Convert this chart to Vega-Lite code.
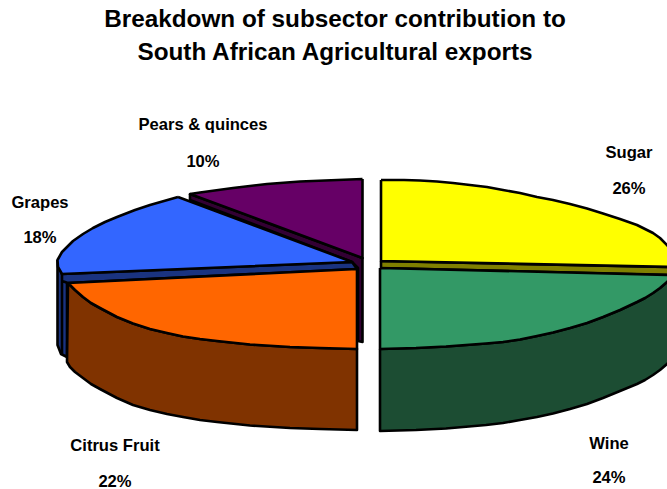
{
  "$schema": "https://vega.github.io/schema/vega-lite/v6.json",
  "width": 667,
  "height": 489,
  "padding": 0,
  "autosize": "none",
  "background": "white",
  "view": {"stroke": null},
  "title": {
    "text": ["Breakdown of subsector contribution to", "South African Agricultural exports"],
    "font": "Liberation Sans",
    "fontSize": 24.3,
    "fontWeight": "bold",
    "lineHeight": 33,
    "color": "black",
    "anchor": "middle",
    "baseline": "top",
    "offset": 0,
    "dx": 1.5,
    "dy": 65
  },
  "datasets": {
    "slices": [
      {"part":"Pears side","x":190,"y":194},{"part":"Pears side","x":362.5,"y":258},{"part":"Pears side","x":362.5,"y":342},{"part":"Pears side","x":358,"y":341},{"part":"Pears side","x":358,"y":268},{"part":"Pears side","x":352,"y":262},{"part":"Pears side","x":190,"y":200},{"part":"Pears side","x":190,"y":194},
      {"part":"Pears top","x":362.5,"y":179},{"part":"Pears top","x":300,"y":181.5},{"part":"Pears top","x":267,"y":184},{"part":"Pears top","x":233,"y":188},{"part":"Pears top","x":200,"y":192.5},{"part":"Pears top","x":190,"y":194},{"part":"Pears top","x":362.5,"y":258},{"part":"Pears top","x":362.5,"y":179},
      {"part":"Grapes wall","x":57.5,"y":260},{"part":"Grapes wall","x":62,"y":274},{"part":"Grapes wall","x":67,"y":280},{"part":"Grapes wall","x":67,"y":357},{"part":"Grapes wall","x":61,"y":354},{"part":"Grapes wall","x":57.5,"y":345},{"part":"Grapes wall","x":57.5,"y":260},
      {"part":"Grapes cut","x":62,"y":274},{"part":"Grapes cut","x":352,"y":262},{"part":"Grapes cut","x":357,"y":269},{"part":"Grapes cut","x":68,"y":283},{"part":"Grapes cut","x":62,"y":281},{"part":"Grapes cut","x":62,"y":274},{"part":"Grapes cut","x":62,"y":354},
      {"part":"Grapes top","x":178,"y":197},{"part":"Grapes top","x":150,"y":205},{"part":"Grapes top","x":135,"y":210},{"part":"Grapes top","x":117,"y":217},{"part":"Grapes top","x":105,"y":222},{"part":"Grapes top","x":93,"y":228},{"part":"Grapes top","x":83,"y":234},{"part":"Grapes top","x":73,"y":241},{"part":"Grapes top","x":67,"y":247},{"part":"Grapes top","x":62,"y":252},{"part":"Grapes top","x":57.5,"y":260},{"part":"Grapes top","x":58,"y":267},{"part":"Grapes top","x":62,"y":274},{"part":"Grapes top","x":352,"y":262},{"part":"Grapes top","x":347,"y":260},{"part":"Grapes top","x":178,"y":197},
      {"part":"Citrus side","x":68,"y":283},{"part":"Citrus side","x":75,"y":290},{"part":"Citrus side","x":83,"y":297},{"part":"Citrus side","x":91,"y":303},{"part":"Citrus side","x":100,"y":308},{"part":"Citrus side","x":117,"y":317},{"part":"Citrus side","x":133,"y":323.5},{"part":"Citrus side","x":150,"y":329},{"part":"Citrus side","x":167,"y":333},{"part":"Citrus side","x":183,"y":336.5},{"part":"Citrus side","x":200,"y":339},{"part":"Citrus side","x":217,"y":341},{"part":"Citrus side","x":250,"y":344.5},{"part":"Citrus side","x":290,"y":347},{"part":"Citrus side","x":320,"y":348},{"part":"Citrus side","x":357,"y":349},{"part":"Citrus side","x":357,"y":430},{"part":"Citrus side","x":320,"y":429},{"part":"Citrus side","x":290,"y":428},{"part":"Citrus side","x":250,"y":425.5},{"part":"Citrus side","x":217,"y":422},{"part":"Citrus side","x":200,"y":420},{"part":"Citrus side","x":183,"y":417},{"part":"Citrus side","x":167,"y":414},{"part":"Citrus side","x":150,"y":410},{"part":"Citrus side","x":133,"y":405},{"part":"Citrus side","x":117,"y":398},{"part":"Citrus side","x":100,"y":389},{"part":"Citrus side","x":91,"y":384},{"part":"Citrus side","x":83,"y":378},{"part":"Citrus side","x":75,"y":372},{"part":"Citrus side","x":70,"y":367},{"part":"Citrus side","x":67,"y":362},{"part":"Citrus side","x":68,"y":283},
      {"part":"Citrus top","x":68,"y":283},{"part":"Citrus top","x":75,"y":290},{"part":"Citrus top","x":83,"y":297},{"part":"Citrus top","x":91,"y":303},{"part":"Citrus top","x":100,"y":308},{"part":"Citrus top","x":117,"y":317},{"part":"Citrus top","x":133,"y":323.5},{"part":"Citrus top","x":150,"y":329},{"part":"Citrus top","x":167,"y":333},{"part":"Citrus top","x":183,"y":336.5},{"part":"Citrus top","x":200,"y":339},{"part":"Citrus top","x":217,"y":341},{"part":"Citrus top","x":250,"y":344.5},{"part":"Citrus top","x":290,"y":347},{"part":"Citrus top","x":320,"y":348},{"part":"Citrus top","x":357,"y":349},{"part":"Citrus top","x":357,"y":269},{"part":"Citrus top","x":68,"y":283},
      {"part":"Sugar cut","x":381,"y":261},{"part":"Sugar cut","x":670,"y":267},{"part":"Sugar cut","x":670,"y":275},{"part":"Sugar cut","x":381,"y":268},{"part":"Sugar cut","x":381,"y":261},
      {"part":"Sugar top","x":381,"y":180},{"part":"Sugar top","x":404,"y":180},{"part":"Sugar top","x":420,"y":180.5},{"part":"Sugar top","x":437,"y":181.5},{"part":"Sugar top","x":453,"y":183},{"part":"Sugar top","x":470,"y":185},{"part":"Sugar top","x":487,"y":187},{"part":"Sugar top","x":503,"y":190},{"part":"Sugar top","x":520,"y":193},{"part":"Sugar top","x":537,"y":197},{"part":"Sugar top","x":553,"y":200},{"part":"Sugar top","x":570,"y":204},{"part":"Sugar top","x":587,"y":208.5},{"part":"Sugar top","x":603,"y":213.5},{"part":"Sugar top","x":620,"y":219},{"part":"Sugar top","x":637,"y":225},{"part":"Sugar top","x":645,"y":229},{"part":"Sugar top","x":653,"y":233},{"part":"Sugar top","x":660,"y":238},{"part":"Sugar top","x":667,"y":245},{"part":"Sugar top","x":672,"y":252},{"part":"Sugar top","x":672,"y":267},{"part":"Sugar top","x":381,"y":261},{"part":"Sugar top","x":381,"y":180},
      {"part":"Wine side","x":380,"y":349},{"part":"Wine side","x":416,"y":348},{"part":"Wine side","x":446,"y":346.5},{"part":"Wine side","x":486,"y":343.5},{"part":"Wine side","x":503,"y":342},{"part":"Wine side","x":520,"y":339.5},{"part":"Wine side","x":537,"y":336},{"part":"Wine side","x":553,"y":332.5},{"part":"Wine side","x":570,"y":328},{"part":"Wine side","x":587,"y":323},{"part":"Wine side","x":603,"y":317},{"part":"Wine side","x":620,"y":310},{"part":"Wine side","x":637,"y":302},{"part":"Wine side","x":645,"y":298},{"part":"Wine side","x":653,"y":293},{"part":"Wine side","x":660,"y":288},{"part":"Wine side","x":667,"y":282},{"part":"Wine side","x":672,"y":276},{"part":"Wine side","x":672,"y":358},{"part":"Wine side","x":667,"y":364},{"part":"Wine side","x":660,"y":370},{"part":"Wine side","x":653,"y":375},{"part":"Wine side","x":645,"y":380},{"part":"Wine side","x":637,"y":384},{"part":"Wine side","x":620,"y":391},{"part":"Wine side","x":603,"y":398},{"part":"Wine side","x":587,"y":404},{"part":"Wine side","x":570,"y":409},{"part":"Wine side","x":553,"y":413.5},{"part":"Wine side","x":537,"y":417},{"part":"Wine side","x":520,"y":420},{"part":"Wine side","x":503,"y":423},{"part":"Wine side","x":486,"y":425},{"part":"Wine side","x":446,"y":428.5},{"part":"Wine side","x":416,"y":430},{"part":"Wine side","x":380,"y":431},{"part":"Wine side","x":380,"y":349},
      {"part":"Wine top","x":380,"y":268},{"part":"Wine top","x":672,"y":275},{"part":"Wine top","x":672,"y":276},{"part":"Wine top","x":667,"y":282},{"part":"Wine top","x":660,"y":288},{"part":"Wine top","x":653,"y":293},{"part":"Wine top","x":645,"y":298},{"part":"Wine top","x":637,"y":302},{"part":"Wine top","x":620,"y":310},{"part":"Wine top","x":603,"y":317},{"part":"Wine top","x":587,"y":323},{"part":"Wine top","x":570,"y":328},{"part":"Wine top","x":553,"y":332.5},{"part":"Wine top","x":537,"y":336},{"part":"Wine top","x":520,"y":339.5},{"part":"Wine top","x":503,"y":342},{"part":"Wine top","x":486,"y":343.5},{"part":"Wine top","x":446,"y":346.5},{"part":"Wine top","x":416,"y":348},{"part":"Wine top","x":380,"y":349},{"part":"Wine top","x":380,"y":268}
    ],
    "labels": [
      {"name":"Sugar","share":"26%","x":629,"yName":153,"yShare":189},
      {"name":"Wine","share":"24%","x":609,"yName":444,"yShare":478},
      {"name":"Citrus Fruit","share":"22%","x":115,"yName":446,"yShare":482},
      {"name":"Grapes","share":"18%","x":40,"yName":203,"yShare":238},
      {"name":"Pears & quinces","share":"10%","x":203,"yName":125,"yShare":162}
    ]
  },
  "layer": [
    {
      "data": {"name": "slices"},
      "mark": {"type": "line", "stroke": "black", "strokeWidth": 2.6, "strokeJoin": "round", "clip": true},
      "encoding": {
        "x": {"field": "x", "type": "quantitative", "scale": {"domain": [0, 667]}, "axis": null},
        "y": {"field": "y", "type": "quantitative", "scale": {"domain": [489, 0]}, "axis": null},
        "detail": {"field": "part"},
        "order": {"value": null},
        "fill": {
          "field": "part",
          "type": "nominal",
          "legend": null,
          "scale": {
            "domain": ["Pears side","Pears top","Grapes wall","Grapes cut","Grapes top","Citrus side","Citrus top","Sugar cut","Sugar top","Wine side","Wine top"],
            "range": ["#330033","#660066","#1A3380","#1A3380","#3366FF","#803300","#FF6600","#808000","#FFFF00","#1C4D33","#339966"]
          }
        }
      }
    },
    {
      "data": {"name": "labels"},
      "mark": {"type": "text", "font": "Liberation Sans", "fontSize": 16.6, "fontWeight": "bold", "color": "black"},
      "encoding": {
        "x": {"field": "x", "type": "quantitative", "scale": {"domain": [0, 667]}, "axis": null},
        "y": {"field": "yName", "type": "quantitative", "scale": {"domain": [489, 0]}, "axis": null},
        "text": {"field": "name"}
      }
    },
    {
      "data": {"name": "labels"},
      "mark": {"type": "text", "font": "Liberation Sans", "fontSize": 16.6, "fontWeight": "bold", "color": "black"},
      "encoding": {
        "x": {"field": "x", "type": "quantitative", "scale": {"domain": [0, 667]}, "axis": null},
        "y": {"field": "yShare", "type": "quantitative", "scale": {"domain": [489, 0]}, "axis": null},
        "text": {"field": "share"}
      }
    }
  ]
}
